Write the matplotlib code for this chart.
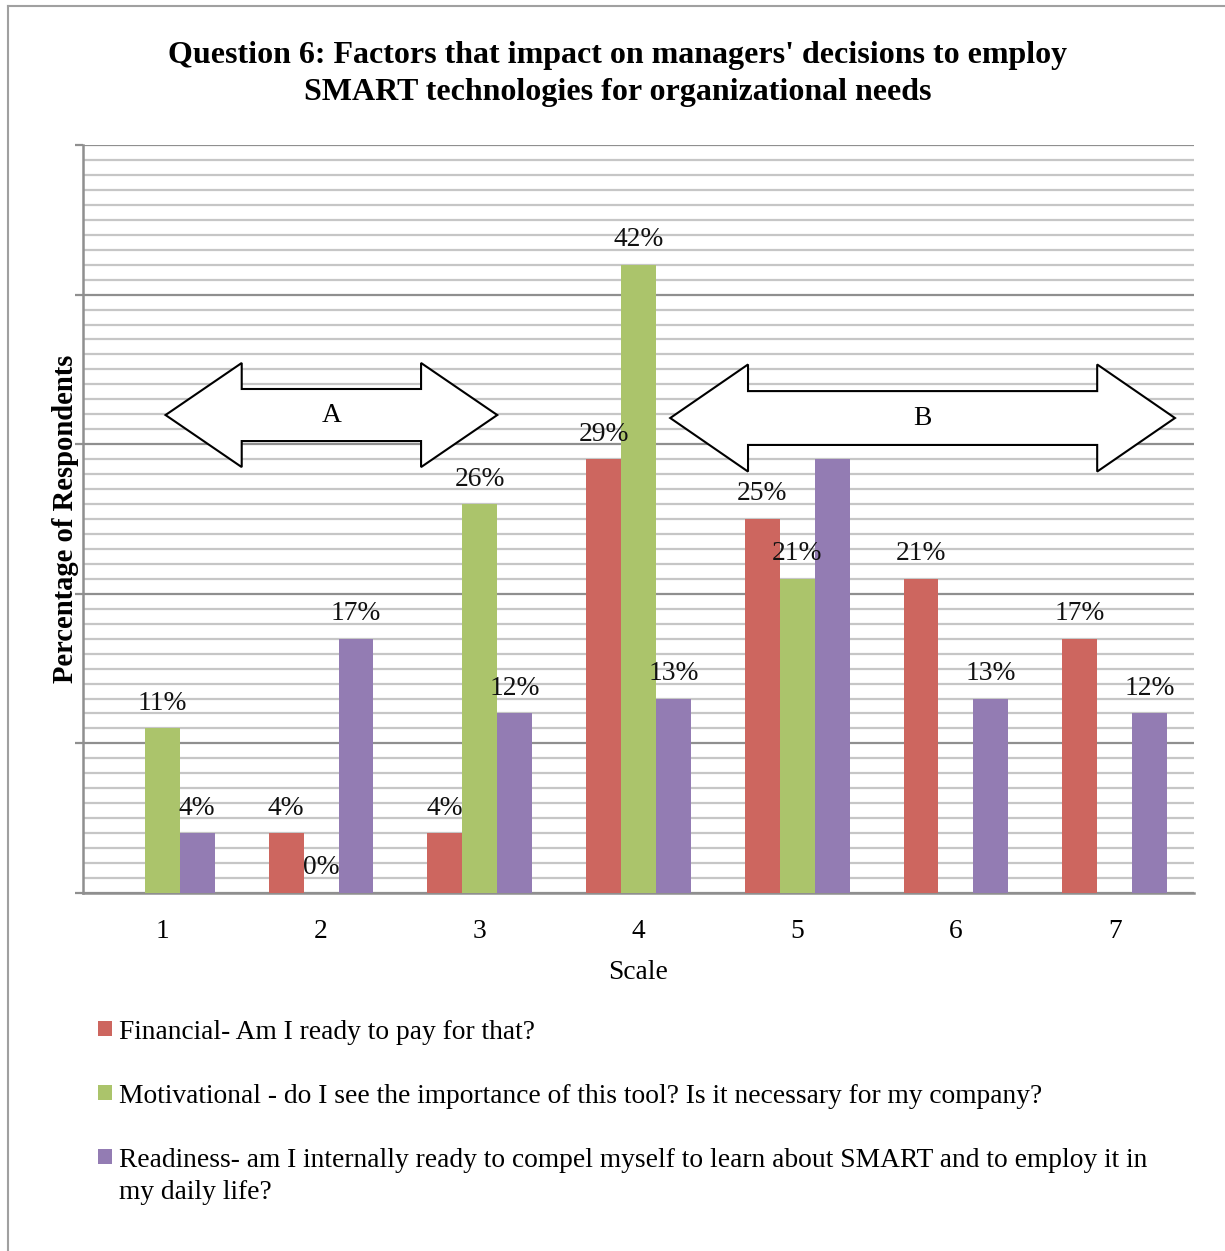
import numpy as np
import matplotlib
matplotlib.use("Agg")
import matplotlib.pyplot as plt
from matplotlib.patches import Polygon, Rectangle
from matplotlib.lines import Line2D
from matplotlib.ticker import MultipleLocator

# ---- data -------------------------------------------------------------
scale = ["1", "2", "3", "4", "5", "6", "7"]
financial = [None, 4, 4, 29, 25, 21, 17]
motivational = [11, 0, 26, 42, 21, None, None]
readiness = [4, 17, 12, 13, 29, 13, 12]

series_names = [
    "Financial- Am I ready to pay for that?",
    "Motivational - do I see the importance of this tool? Is it necessary for my company?",
    "Readiness- am I internally ready to compel myself to learn about SMART and to employ it in\nmy daily life?",
]
series_values = [financial, motivational, readiness]
series_colors = ["#CD665F", "#ABC46B", "#937CB3"]

title = ("Question 6: Factors that impact on managers' decisions to employ\n"
         "SMART technologies for organizational needs")
y_label = "Percentage of Respondents"
x_label = "Scale"

# ---- figure -----------------------------------------------------------
W, H = 1225, 1251
fig = plt.figure(figsize=(W / 100, H / 100), dpi=100)
serif = "Liberation Serif"
body_size = 19.8

ax = fig.add_axes([83 / W, 1 - 893 / H, 1111 / W, 748 / H])
ax.set_xlim(-0.5, 6.5)
ax.set_ylim(0, 50)

bar_w = 0.22
offsets = [-bar_w, 0.0, bar_w]
x = np.arange(len(scale))

for vals, off, col in zip(series_values, offsets, series_colors):
    for xi, v in zip(x, vals):
        if v is None:
            continue
        ax.bar(xi + off, v, width=bar_w, color=col, zorder=3, linewidth=0)
        ax.annotate(f"{v}%", (xi + off, v), xytext=(0, 18),
                    textcoords="offset points", ha="center", va="center",
                    fontsize=body_size, family=serif, color="#111111", zorder=4)

# grid: fine lines each percent, darker every ten
ax.yaxis.set_major_locator(MultipleLocator(10))
ax.yaxis.set_minor_locator(MultipleLocator(1))
ax.grid(which="minor", axis="y", color="#c6c6c6", linewidth=1.6, zorder=0)
ax.grid(which="major", axis="y", color="#8f8f8f", linewidth=1.6, zorder=1)
ax.set_axisbelow(True)
ax.tick_params(axis="y", which="major", length=6, width=1.6, color="#8f8f8f",
               labelleft=False)
ax.tick_params(axis="y", which="minor", length=0)
ax.tick_params(axis="x", length=0, pad=19, labelsize=body_size)
ax.set_xticks(x)
ax.set_xticklabels(scale, family=serif)

for s in ["top", "right"]:
    ax.spines[s].set_visible(False)
for s in ["left", "bottom"]:
    ax.spines[s].set_color("#8f8f8f")
    ax.spines[s].set_linewidth(1.8)

ax.set_xlabel(x_label, family=serif, fontsize=body_size, labelpad=11)


def double_arrow(axis, x0, x1, yc, body, head, head_len, text):
    pts = [(x0, yc), (x0 + head_len, yc + head), (x0 + head_len, yc + body),
           (x1 - head_len, yc + body), (x1 - head_len, yc + head), (x1, yc),
           (x1 - head_len, yc - head), (x1 - head_len, yc - body),
           (x0 + head_len, yc - body), (x0 + head_len, yc - head)]
    axis.add_patch(Polygon(pts, closed=True, facecolor="white",
                           edgecolor="black", linewidth=1.5, zorder=6))
    axis.text((x0 + x1) / 2, yc, text, ha="center", va="center",
              family=serif, fontsize=body_size, zorder=7)


double_arrow(ax, 0.02, 2.11, 31.95, 1.74, 3.48, 0.48, "A")
double_arrow(ax, 3.20, 6.38, 31.75, 1.8, 3.58, 0.49, "B")

# ---- titles -----------------------------------------------------------
fig.text(618 / W, 1 - 74 / H, title, ha="center", va="center",
         family=serif, fontweight="bold", fontsize=23, linespacing=1.36)
fig.text(66 / W, 1 - 519 / H, y_label, ha="center", va="center",
         rotation=90, family=serif, fontweight="bold", fontsize=20.6)

# ---- legend -----------------------------------------------------------
baselines = [1039, 1103, 1167]
line_step = 32
for name, col, base in zip(series_names, series_colors, baselines):
    fig.patches.append(Rectangle((98 / W, 1 - (base - 3) / H), 14 / W, 15 / H,
                                 transform=fig.transFigure, facecolor=col,
                                 edgecolor="none"))
    for k, line in enumerate(name.split("\n")):
        fig.text(119 / W, 1 - (base + k * line_step) / H, line, ha="left",
                 va="baseline", family=serif, fontsize=body_size)

# page frame on the left and top
fig.add_artist(Line2D([8 / W, 8 / W], [0, 1 - 6 / H], transform=fig.transFigure,
                      color="#a0a0a0", linewidth=1.5))
fig.add_artist(Line2D([8 / W, 1], [1 - 6 / H, 1 - 6 / H], transform=fig.transFigure,
                      color="#a0a0a0", linewidth=1.5))

fig.savefig("out.png", dpi=100)
